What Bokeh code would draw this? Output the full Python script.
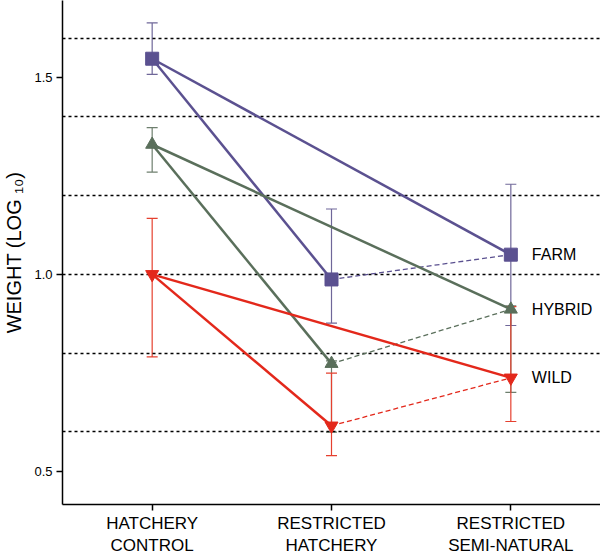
from bokeh.plotting import figure
from bokeh.models import Range1d, FixedTicker, ColumnDataSource, Whisker, TeeHead, Label
from bokeh.embed import file_html
from bokeh.resources import INLINE

# ---- data ----
treatments = ["HATCHERY\nCONTROL", "RESTRICTED\nHATCHERY", "RESTRICTED\nSEMI-NATURAL"]
x_pos = [0, 1, 2]
groups = ["FARM", "HYBRID", "WILD"]
farm_mean = [1.548, 0.987, 1.050]
farm_upper = [1.639, 1.166, 1.229]
farm_lower = [1.508, 0.876, 0.870]
hybrid_mean = [1.330, 0.773, 0.911]
hybrid_upper = [1.373, 0.780, 0.920]
hybrid_lower = [1.260, 0.599, 0.700]
wild_mean = [1.000, 0.615, 0.737]
wild_upper = [1.142, 0.749, 0.918]
wild_lower = [0.790, 0.539, 0.626]
grid_values = [0.6, 0.8, 1.0, 1.2, 1.4, 1.6]
y_ticks = [0.5, 1.0, 1.5]

colors = {"FARM": "#5b5190", "HYBRID": "#5a6f5b", "WILD": "#e3281b"}
err_colors = {"FARM": "#6f6799", "HYBRID": "#6e7f6e", "WILD": "#e5402f"}
markers = {"FARM": "square", "HYBRID": "triangle", "WILD": "inverted_triangle"}
data = {
    "FARM": (farm_mean, farm_upper, farm_lower),
    "HYBRID": (hybrid_mean, hybrid_upper, hybrid_lower),
    "WILD": (wild_mean, wild_upper, wild_lower),
}

p = figure(width=600, height=558, output_backend="svg", toolbar_location=None,
           x_range=Range1d(-0.5, 2.5), y_range=Range1d(0.415, 1.696))
p.min_border_left = 62
p.min_border_right = 0
p.min_border_top = 0
p.min_border_bottom = 47
p.outline_line_color = None
p.xgrid.visible = False
p.ygrid.visible = False
p.background_fill_color = "white"

# dashed horizontal reference lines
p.hspan(y=grid_values, line_color="black", line_width=1.5, line_dash="3 3")

font = "Liberation Sans"

for g in groups:
    mean, up, lo = data[g]
    c = colors[g]
    src = ColumnDataSource(dict(x=x_pos, upper=up, lower=lo))
    w = Whisker(source=src, base="x", upper="upper", lower="lower",
                line_color=err_colors[g], line_width=1.2,
                upper_head=TeeHead(size=11, line_color=err_colors[g], line_width=1.2),
                lower_head=TeeHead(size=11, line_color=err_colors[g], line_width=1.2))
    p.add_layout(w)
    p.line([x_pos[0], x_pos[1]], [mean[0], mean[1]], line_color=c, line_width=2.5)
    p.line([x_pos[0], x_pos[2]], [mean[0], mean[2]], line_color=c, line_width=2.5)
    p.line([x_pos[1], x_pos[2]], [mean[1], mean[2]], line_color=c, line_width=1.3, line_dash="5 3")
    p.scatter(x_pos, mean, marker=markers[g], size=13, fill_color=c, line_color=c)
    p.add_layout(Label(x=x_pos[2], y=mean[2], text=g, x_offset=21,
                       text_baseline="middle", text_font=font,
                       text_font_size="16px", text_color="black"))

# axes
p.xaxis.ticker = FixedTicker(ticks=x_pos)
p.xaxis.major_label_overrides = {i: t for i, t in zip(x_pos, treatments)}
p.xaxis.major_label_text_font = font
p.xaxis.major_label_text_font_size = "17px"
p.xaxis.major_label_text_color = "black"
p.xaxis.major_label_standoff = 3
p.xaxis.minor_tick_line_color = None
p.xaxis.major_tick_in = 0
p.xaxis.major_tick_out = 6
p.xaxis.axis_line_width = 1.5
p.xaxis.major_tick_line_width = 1.5

p.yaxis.ticker = FixedTicker(ticks=y_ticks)
p.yaxis.major_label_overrides = {0.5: "0.5", 1.0: "1.0", 1.5: "1.5"}
p.yaxis.major_label_text_font = font
p.yaxis.major_label_text_font_size = "13px"
p.yaxis.major_label_text_color = "black"
p.yaxis.major_label_standoff = 4
p.yaxis.minor_tick_line_color = None
p.yaxis.major_tick_in = 0
p.yaxis.major_tick_out = 6
p.yaxis.axis_line_width = 1.5
p.yaxis.major_tick_line_width = 1.5
p.yaxis.axis_label = "WEIGHT (LOG \u2081\u2080)"
p.yaxis.axis_label_text_font = font
p.yaxis.axis_label_text_font_size = "20px"
p.yaxis.axis_label_text_font_style = "normal"
p.yaxis.axis_label_text_color = "black"
p.yaxis.axis_label_standoff = 6

open("out.html", "w").write(file_html(p, INLINE))
